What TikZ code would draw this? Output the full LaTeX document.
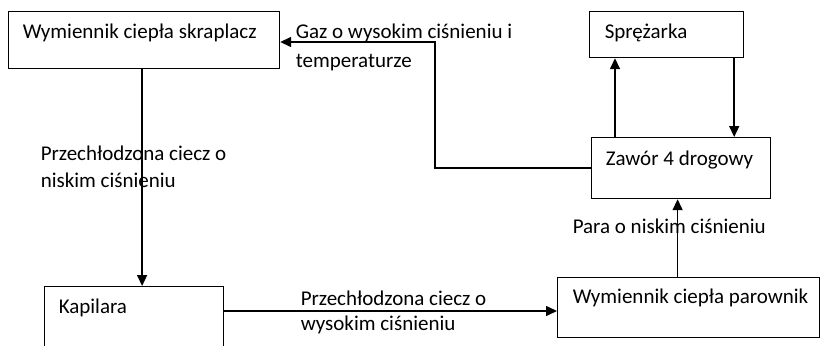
\documentclass[tikz,border=0pt]{standalone}
\usepackage{fontspec}
\setmainfont{Carlito}
\usetikzlibrary{arrows.meta, positioning, calc}

\begin{document}
\begin{tikzpicture}[x=1pt, y=-1pt, font=\fontsize{21}{25}\selectfont, line width=1.5pt,
  >={Triangle[length=11pt,width=10pt]},
  blok/.style={draw, rectangle, anchor=north west, inner sep=0pt, line width=1.2pt},
  opis/.style={anchor=base west, inner sep=0pt}]
\useasboundingbox (0,0) rectangle (821,345);

% boxes
\node[blok, minimum width=271pt, minimum height=57pt] (skraplacz) at (8,11) {};
\node[blok, minimum width=154pt, minimum height=46pt] (sprezarka) at (589,11) {};
\node[blok, minimum width=179pt, minimum height=61pt] (zawor) at (591,137) {};
\node[blok, minimum width=179pt, minimum height=80pt] (kapilara) at (44,286) {};
\node[blok, minimum width=262pt, minimum height=60pt] (parownik) at (557,277) {};

% texts in boxes
\node[opis] (tskraplacz) at (22,38) {Wymiennik ciepła skraplacz};
\node[opis] (tsprezarka) at (604,38) {Sprężarka};
\node[opis] (tzawor) at (605,165) {Zawór 4 drogowy};
\node[opis] (tkapilara) at (58,313) {Kapilara};
\node[opis] (tparownik) at (572,303) {Wymiennik ciepła parownik};

% labels
\node[opis] (gaz) at (295,38) {Gaz o wysokim ciśnieniu i};
\node[opis] (gaz2) at (295,67) {temperaturze};
\node[opis] (niskie) at (40,160) {Przechłodzona ciecz o};
\node[opis] (niskie2) at (40,187) {niskim ciśnieniu};
\node[opis] (wysokie) at (300,305) {Przechłodzona ciecz o};
\node[opis] (wysokie2) at (300,330) {wysokim ciśnieniu};
\node[opis] (para) at (572,233) {Para o niskim ciśnieniu};

% connectors
\coordinate (zalom) at (435,42);
\draw[->] (zawor.west) -| (zalom) -- (skraplacz.east |- zalom);
\draw[->] ([xshift=-2pt]skraplacz.south) -- ([xshift=-2pt]skraplacz.south |- kapilara.north);
\draw[->] ([yshift=-25pt]kapilara.north east) coordinate (kp) -- (kp -| parownik.west);
\draw[->] ([xshift=24pt]zawor.north west) coordinate (zg) -- (zg |- sprezarka.south);
\draw[->] ([xshift=-10pt]sprezarka.south east) coordinate (sd) -- (sd |- zawor.north);
\draw[->] ([xshift=-11pt]parownik.north) coordinate (pg) -- (pg |- zawor.south);

\end{tikzpicture}
\end{document}
